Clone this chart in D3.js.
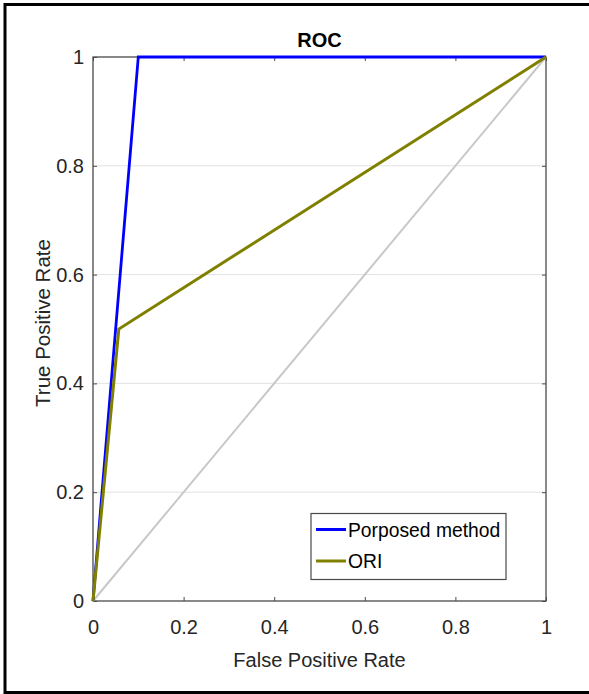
<!DOCTYPE html>
<html><head><meta charset="utf-8">
<script src="https://cdn.jsdelivr.net/npm/d3@7"></script>
<style>body{margin:0;background:#fff}svg{display:block}</style>
</head><body><svg id="c" width="589" height="694"></svg>
<script>
const title = "ROC";
const xLabel = "False Positive Rate";
const yLabel = "True Positive Rate";
const xTicks = [0, 0.2, 0.4, 0.6, 0.8, 1];
const yTicks = [0, 0.2, 0.4, 0.6, 0.8, 1];
const seriesNames = ["Porposed method", "ORI"];
const seriesColors = ["#0000ff", "#808000"];
const proposedFPR = [0, 0.1, 1];
const proposedTPR = [0, 1, 1];
const oriFPR = [0, 0.057, 1];
const oriTPR = [0, 0.5, 1];
const chanceFPR = [0, 1];
const chanceTPR = [0, 1];

const svg = d3.select("#c");
const L = 93, R = 546, T = 57, B = 601;
const x = d3.scaleLinear().domain([0, 1]).range([L, R]);
const y = d3.scaleLinear().domain([0, 1]).range([B, T]);
const font = "'Liberation Sans', Arial, sans-serif";
const fs = "20px";
const axisCol = "#4a4a4a";

// outer frame
svg.append("rect").attr("x", 5).attr("y", 4.5).attr("width", 600).attr("height", 688)
  .attr("fill", "none").attr("stroke", "#000").attr("stroke-width", 3);

// grid
svg.append("g").selectAll("line").data(yTicks.filter(d => d > 0 && d < 1)).join("line")
  .attr("x1", L).attr("x2", R).attr("y1", d => y(d)).attr("y2", d => y(d))
  .attr("stroke", "#e3e3e3").attr("stroke-width", 1);

// axes
const xb = d3.axisBottom(x).tickValues(xTicks).tickSize(-4).tickPadding(19).tickFormat(d3.format("~g"));
const xt = d3.axisTop(x).tickValues(xTicks).tickSize(-4).tickFormat("");
const yl = d3.axisLeft(y).tickValues(yTicks).tickSize(-4).tickPadding(9).tickFormat(d3.format("~g"));
const yr = d3.axisRight(y).tickValues(yTicks).tickSize(-4).tickFormat("");
function style(g) {
  g.select(".domain").attr("stroke", axisCol).attr("stroke-width", 1.3);
  g.selectAll(".tick line").attr("stroke", axisCol);
  g.selectAll("text").attr("fill", "#262626").style("font-family", font).style("font-size", fs);
}
svg.append("g").attr("transform", `translate(0,${B})`).call(xb).call(style);
svg.append("g").attr("transform", `translate(0,${T})`).call(xt).call(style);
svg.append("g").attr("transform", `translate(${L},0)`).call(yl).call(style);
svg.append("g").attr("transform", `translate(${R},0)`).call(yr).call(style);
svg.selectAll(".domain").attr("d", null);
svg.append("rect").attr("x", L).attr("y", T).attr("width", R - L).attr("height", B - T)
  .attr("fill", "none").attr("stroke", axisCol).attr("stroke-width", 1.3);

const line = d3.line().x(d => x(d[0])).y(d => y(d[1]));
const zip = (a, b) => a.map((v, i) => [v, b[i]]);
svg.append("path").attr("d", line(zip(chanceFPR, chanceTPR))).attr("fill", "none")
  .attr("stroke", "#c8c8c8").attr("stroke-width", 2);
svg.append("path").attr("d", line(zip(proposedFPR, proposedTPR))).attr("fill", "none")
  .attr("stroke", seriesColors[0]).attr("stroke-width", 2.8);
svg.append("path").attr("d", line(zip(oriFPR, oriTPR))).attr("fill", "none")
  .attr("stroke", seriesColors[1]).attr("stroke-width", 3);

// title & labels
svg.append("text").attr("x", (L + R) / 2).attr("y", 47).attr("text-anchor", "middle")
  .style("font-family", font).style("font-size", fs).style("font-weight", "bold").attr("fill", "#000").text(title);
svg.append("text").attr("x", (L + R) / 2).attr("y", 667).attr("text-anchor", "middle")
  .style("font-family", font).style("font-size", fs).attr("fill", "#262626").text(xLabel);
svg.append("text").attr("transform", `translate(50,323) rotate(-90)`).attr("text-anchor", "middle")
  .style("font-family", font).style("font-size", "20.5px").attr("fill", "#262626").text(yLabel);

// legend
const lg = svg.append("g");
lg.append("rect").attr("x", 311).attr("y", 513.5).attr("width", 195).attr("height", 66)
  .attr("fill", "#fff").attr("stroke", axisCol).attr("stroke-width", 1.2);
seriesNames.forEach((n, i) => {
  const yy = 529.5 + i * 31.5;
  lg.append("line").attr("x1", 316).attr("x2", 346).attr("y1", yy).attr("y2", yy)
    .attr("stroke", seriesColors[i]).attr("stroke-width", 3);
  lg.append("text").attr("x", 348).attr("y", yy + 7).style("font-family", font).style("font-size", "19.3px")
    .attr("fill", "#000").text(n);
});
</script></body></html>
